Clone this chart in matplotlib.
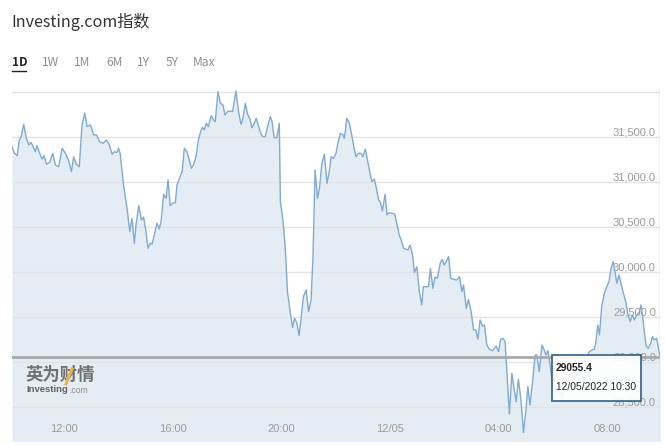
import matplotlib
matplotlib.use("Agg")
import matplotlib.pyplot as plt
from matplotlib.patches import Rectangle
from matplotlib.lines import Line2D

# ---- data (hours since 00:00 on 12/04; price) ----
hours = [10.07, 10.16, 10.26, 10.34, 10.41, 10.50, 10.60, 10.69, 10.77, 10.87, 10.93, 10.99, 11.09, 11.18,
         11.25, 11.34, 11.46, 11.57, 11.67, 11.79, 11.92, 12.04, 12.16, 12.26, 12.34, 12.44, 12.55, 12.65,
         12.75, 12.84, 12.96, 13.08, 13.18, 13.30, 13.43, 13.55, 13.65, 13.76, 13.84, 13.94, 14.00, 14.06,
         14.18, 14.31, 14.41, 14.49, 14.58, 14.64, 14.74, 14.84, 14.92, 15.01, 15.08, 15.16, 15.23, 15.33,
         15.41, 15.50, 15.57, 15.66, 15.75, 15.82, 15.90, 15.99, 16.09, 16.15, 16.24, 16.34, 16.42, 16.52,
         16.60, 16.68, 16.76, 16.85, 16.95, 17.04, 17.09, 17.16, 17.23, 17.31, 17.41, 17.50, 17.56, 17.66,
         17.75, 17.84, 17.92, 18.01, 18.11, 18.20, 18.32, 18.42, 18.51, 18.58, 18.67, 18.75, 18.83, 18.91,
         19.00, 19.07, 19.16, 19.25, 19.32, 19.40, 19.49, 19.59, 19.66, 19.73, 19.83, 19.92, 19.96, 20.06,
         20.14, 20.22, 20.32, 20.41, 20.48, 20.57, 20.65, 20.73, 20.81, 20.91, 21.00, 21.09, 21.16, 21.24,
         21.33, 21.40, 21.49, 21.58, 21.68, 21.76, 21.83, 21.92, 22.01, 22.08, 22.17, 22.25, 22.32, 22.41,
         22.50, 22.60, 22.69, 22.75, 22.84, 22.93, 23.00, 23.09, 23.17, 23.24, 23.33, 23.42, 23.49, 23.58,
         23.64, 23.72, 23.82, 23.89, 23.97, 24.07, 24.17, 24.25, 24.34, 24.41, 24.50, 24.59, 24.66, 24.74,
         24.83, 24.90, 24.99, 25.08, 25.17, 25.23, 25.32, 25.42, 25.49, 25.58, 25.66, 25.75, 25.85, 25.92,
         26.00, 26.07, 26.16, 26.24, 26.34, 26.46, 26.56, 26.65, 26.71, 26.81, 26.89, 26.99, 27.08, 27.16,
         27.24, 27.32, 27.41, 27.48, 27.57, 27.66, 27.79, 27.91, 28.00, 28.08, 28.16, 28.24, 28.31, 28.40,
         28.49, 28.58, 28.65, 28.73, 28.82, 28.92, 29.01, 29.08, 29.16, 29.26, 29.35, 29.41, 29.50, 29.60,
         29.68, 29.75, 29.82, 29.90, 29.97, 30.05, 30.12, 30.20, 30.27, 30.34, 30.45, 30.56, 30.67, 30.78,
         30.89, 31.01, 31.12, 31.23, 31.34, 31.44, 31.53, 31.58, 31.66, 31.72, 31.80, 31.90, 31.99, 32.07,
         32.15, 32.22, 32.29, 32.36, 32.44, 32.51, 32.60, 32.69, 32.76, 32.85, 32.93, 33.01, 33.09, 33.18,
         33.25, 33.31, 33.37, 33.44, 33.52, 33.61, 33.67, 33.74, 33.83, 33.95]
prices = [31396, 31322, 31296, 31470, 31507, 31644, 31489, 31414, 31444, 31378, 31340, 31407, 31322, 31259,
          31296, 31200, 31222, 31322, 31192, 31173, 31378, 31322, 31237, 31118, 31284, 31200, 31173, 31637,
          31767, 31618, 31637, 31526, 31526, 31451, 31433, 31470, 31422, 31311, 31340, 31333, 31378, 31314,
          30970, 30711, 30451, 30600, 30322, 30526, 30740, 30581, 30611, 30451, 30267, 30322, 30311, 30433,
          30544, 30481, 30581, 30867, 30822, 31026, 30740, 30767, 30774, 30970, 31044, 31118, 31378, 31340,
          31248, 31156, 31192, 31284, 31489, 31581, 31611, 31581, 31656, 31618, 31740, 31692, 31673, 32007,
          31878, 31862, 31748, 31785, 31792, 31785, 32015, 31785, 31644, 31711, 31878, 31756, 31711, 31607,
          31656, 31711, 31618, 31533, 31507, 31507, 31618, 31729, 31667, 31496, 31496, 31656, 30785, 30562,
          30267, 29785, 29562, 29385, 29489, 29433, 29296, 29507, 29729, 29803, 29562, 29692, 30156, 31137,
          30822, 30933, 31211, 31311, 30989, 31118, 31284, 31266, 31322, 31433, 31544, 31533, 31489, 31711,
          31662, 31507, 31359, 31284, 31322, 31322, 31284, 31367, 31248, 31137, 31007, 31037, 30944, 30803,
          30785, 30681, 30867, 30637, 30662, 30655, 30648, 30544, 30414, 30359, 30267, 30255, 30248, 30303,
          30192, 29996, 30062, 29785, 29637, 29840, 29840, 29840, 30044, 29822, 29948, 29933, 30100, 30144,
          30081, 30118, 30173, 29933, 29922, 29914, 29951, 29785, 29859, 29600, 29700, 29562, 29359, 29359,
          29256, 29470, 29403, 29414, 29192, 29144, 29129, 29181, 29118, 29256, 29267, 29229, 28878, 28426,
          28878, 28692, 28562, 28811, 28600, 28218, 28470, 28729, 28526, 28803, 29081, 29081, 28896, 29192,
          29137, 29081, 29129, 28970, 28804, 28670, 28714, 28637, 28692, 28603, 28748, 28825, 28748, 28892,
          28859, 28970, 29003, 29048, 29114, 29137, 29144, 29211, 29414, 29303, 29618, 29767, 29840, 29896,
          30044, 30118, 30007, 29878, 29970, 29878, 29767, 29673, 29544, 29451, 29526, 29470, 29526, 29551,
          29637, 29507, 29340, 29181, 29155, 29211, 29285, 29248, 29266, 29055.4]

x_ticks = [12, 16, 20, 24, 28, 32]
x_labels = ["12:00", "16:00", "20:00", "12/05", "04:00", "08:00"]
y_ticks = [28500, 29000, 29500, 30000, 30500, 31000, 31500, 32000]
y_labels = ["28,500.0", "29,000.0", "29,500.0", "30,000.0", "30,500.0", "31,000.0", "31,500.0", ""]
title = "Investing.com指数"
ranges = ["1D", "1W", "1M", "6M", "1Y", "5Y", "Max"]
tip_value = "29055.4"
tip_time = "12/05/2022 10:30"

W, H = 665, 445
fig = plt.figure(figsize=(W / 100, H / 100), dpi=100)
fig.patch.set_facecolor("white")

def fx(px):
    return px / W

def fy(py):
    return 1 - py / H

ax = fig.add_axes([fx(12), fy(441), fx(660) - fx(12), fy(88) - fy(441)])
ax.set_facecolor("white")
ax.set_xlim(10.07, 33.95)
ax.set_ylim(28125, 32048)

ax.fill_between(hours, prices, 28000, color="#e5edf4", lw=0, zorder=1)
ax.plot(hours, prices, color="#80aad3", lw=1.0, zorder=2)

# crosshair line at last value
ax.axhline(prices[-1], color="#a9a9a9", lw=2.0, zorder=2.2)
ax.axvline(33.95, color="#c8c8c8", lw=1.0, zorder=2.2)

ax.set_axisbelow("line")
ax.set_yticks(y_ticks)
ax.set_yticklabels(y_labels)
ax.yaxis.tick_right()
ax.tick_params(axis="y", length=0, pad=-3, labelsize=8, labelcolor="#9b9b9b")
for lbl in ax.get_yticklabels():
    lbl.set_horizontalalignment("right")
    lbl.set_verticalalignment("bottom")
    lbl.set_fontfamily("Liberation Sans")
ax.set_xticks(x_ticks)
ax.set_xticklabels(x_labels)
ax.tick_params(axis="x", length=0, pad=-12, labelsize=8, labelcolor="#9b9b9b")
for lbl in ax.get_xticklabels():
    lbl.set_fontfamily("Liberation Sans")
ax.grid(axis="y", color="#e3e3e3", lw=1)
ax.grid(axis="x", visible=False)
for s in ax.spines.values():
    s.set_visible(False)

# title and range buttons
fig.text(fx(11), fy(22), title, fontsize=11.6, color="#333333", va="center", ha="left",
         family=["Noto Sans CJK SC", "DejaVu Sans"])
btn_x = [12, 42, 74, 106, 137, 166, 193]
for i, (lab, bx) in enumerate(zip(ranges, btn_x)):
    fig.text(fx(bx), fy(63), lab, fontsize=8.6, va="center", ha="left",
             color="#222222" if i == 0 else "#8f8f8f",
             fontweight="bold" if i == 0 else "normal",
             family=["Noto Sans CJK SC", "DejaVu Sans"])
fig.add_artist(Line2D([fx(12), fx(26)], [fy(71), fy(71)], color="#222222", lw=1.0))

# watermark
fig.text(fx(26), fy(375), "英为财情", fontsize=12.5, fontweight="bold", color="#707070",
         va="center", ha="left", family=["Noto Sans CJK SC", "DejaVu Sans"], zorder=5)
fig.add_artist(Line2D([fx(66), fx(72)], [fy(384), fy(369)], color="#e9b44c", lw=2.2, zorder=6))
fig.text(fx(26), fy(390), "Investing", fontsize=6.8, fontweight="bold", color="#606060",
         va="center", ha="left", family="Liberation Sans", zorder=5)
fig.text(fx(69), fy(390.5), ".com", fontsize=6.2, color="#8a8a8a",
         va="center", ha="left", family="Liberation Sans", zorder=5)

# tooltip
fig.add_artist(Rectangle((fx(552), fy(401)), fx(641) - fx(552), fy(355) - fy(401),
                         facecolor="white", alpha=0.9, edgecolor="#2a5d87", lw=1.3, zorder=10))
fig.text(fx(556), fy(368), tip_value, fontsize=7.4, fontweight="bold", color="#222222",
         va="center", ha="left", family="Liberation Sans", zorder=11)
fig.text(fx(556), fy(387), tip_time, fontsize=7.4, color="#222222",
         va="center", ha="left", family="Liberation Sans", zorder=11)

fig.savefig("out.png", dpi=100)
